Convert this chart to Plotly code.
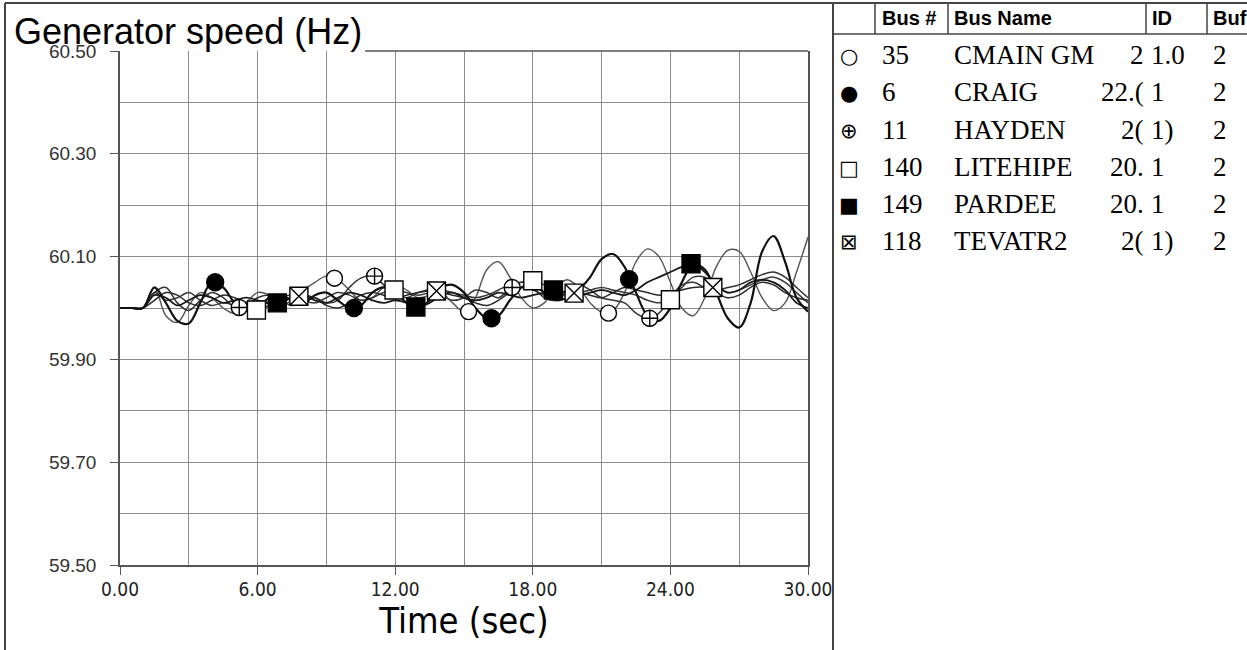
import plotly.graph_objects as go

# ---------------- data ----------------
TIME = [0.0, 0.5, 1.0, 1.5, 2.0, 2.5, 3.0, 3.5, 4.0, 4.5, 5.0, 5.5, 6.0, 6.5, 7.0, 7.5,
        8.0, 8.5, 9.0, 9.5, 10.0, 10.5, 11.0, 11.5, 12.0, 12.5, 13.0, 13.5, 14.0, 14.5,
        15.0, 15.5, 16.0, 16.5, 17.0, 17.5, 18.0, 18.5, 19.0, 19.5, 20.0, 20.5, 21.0,
        21.5, 22.0, 22.5, 23.0, 23.5, 24.0, 24.5, 25.0, 25.5, 26.0, 26.5, 27.0, 27.5,
        28.0, 28.5, 29.0, 29.5, 30.0]

CMAIN = [60.000, 60.000, 60.000, 60.040, 59.985, 59.972, 60.005, 60.030, 60.020, 60.000,
         59.990, 60.010, 60.030, 60.025, 60.005, 60.015, 60.035, 60.050, 60.062, 60.055,
         60.035, 60.015, 60.020, 60.040, 60.045, 60.035, 60.020, 60.025, 60.030, 60.010,
         59.993, 60.020, 60.075, 60.090, 60.060, 60.020, 60.000, 60.010, 60.040, 60.055,
         60.040, 60.010, 59.992, 59.995, 60.030, 60.090, 60.115, 60.100, 60.050, 60.000,
         59.985, 60.020, 60.080, 60.112, 60.110, 60.070, 60.020, 59.995, 60.010, 60.070,
         60.138]
CRAIG = [60.000, 60.000, 60.000, 60.040, 60.010, 59.975, 59.970, 60.010, 60.050, 60.040,
         60.010, 59.995, 60.000, 60.020, 60.025, 60.015, 60.010, 60.025, 60.030, 60.015,
         60.000, 60.005, 60.030, 60.040, 60.030, 60.010, 60.000, 60.015, 60.040, 60.045,
         60.030, 60.000, 59.980, 59.985, 60.015, 60.040, 60.045, 60.030, 60.015, 60.020,
         60.035, 60.060, 60.095, 60.105, 60.080, 60.030, 59.985, 59.975, 60.000, 60.050,
         60.085, 60.075, 60.030, 59.980, 59.962, 60.010, 60.110, 60.140, 60.090, 60.020,
         59.993]
HAYDEN = [60.000, 60.000, 60.000, 60.030, 60.040, 60.010, 59.995, 60.015, 60.030, 60.020,
          60.002, 60.005, 60.020, 60.025, 60.015, 60.005, 60.010, 60.020, 60.010, 60.015,
          60.040, 60.058, 60.062, 60.045, 60.025, 60.020, 60.030, 60.035, 60.025, 60.015,
          60.020, 60.035, 60.030, 60.020, 60.038, 60.050, 60.040, 60.020, 60.015, 60.030,
          60.045, 60.035, 60.020, 60.015, 60.010, 59.990, 59.980, 59.990, 60.020, 60.045,
          60.050, 60.040, 60.035, 60.040, 60.045, 60.055, 60.065, 60.070, 60.060, 60.040,
          60.020]
LITEHIPE = [60.000, 60.000, 60.000, 60.030, 60.015, 60.020, 60.030, 60.015, 60.005, 60.010,
            60.005, 60.000, 59.996, 60.005, 60.020, 60.025, 60.015, 60.010, 60.020, 60.030,
            60.025, 60.015, 60.020, 60.030, 60.035, 60.030, 60.025, 60.030, 60.035, 60.030,
            60.025, 60.020, 60.025, 60.035, 60.045, 60.050, 60.053, 60.045, 60.035, 60.030,
            60.030, 60.035, 60.040, 60.035, 60.030, 60.025, 60.015, 60.010, 60.016, 60.040,
            60.060, 60.060, 60.045, 60.030, 60.035, 60.045, 60.055, 60.060, 60.050, 60.030,
            60.010]
PARDEE = [60.000, 60.000, 60.000, 60.025, 60.020, 60.005, 60.015, 60.025, 60.020, 60.010,
          60.015, 60.020, 60.015, 60.010, 60.010, 60.020, 60.025, 60.015, 60.010, 60.020,
          60.030, 60.025, 60.015, 60.010, 60.015, 60.010, 60.002, 60.010, 60.025, 60.030,
          60.020, 60.015, 60.020, 60.030, 60.025, 60.020, 60.025, 60.030, 60.035, 60.030,
          60.025, 60.030, 60.035, 60.030, 60.025, 60.035, 60.050, 60.060, 60.070, 60.080,
          60.086, 60.070, 60.045, 60.030, 60.035, 60.050, 60.055, 60.050, 60.035, 60.010,
          60.000]
TEVATR2 = [60.000, 60.000, 60.000, 60.015, 60.030, 60.025, 60.010, 60.005, 60.015, 60.025,
           60.020, 60.010, 60.005, 60.010, 60.015, 60.020, 60.025, 60.020, 60.005, 60.000,
           60.010, 60.025, 60.030, 60.025, 60.020, 60.025, 60.030, 60.033, 60.030, 60.025,
           60.020, 60.010, 60.005, 60.015, 60.030, 60.040, 60.035, 60.025, 60.025, 60.028,
           60.030, 60.025, 60.020, 60.030, 60.040, 60.035, 60.030, 60.025, 60.030, 60.035,
           60.040, 60.040, 60.030, 60.020, 60.025, 60.040, 60.050, 60.045, 60.030, 60.020,
           60.015]

# marker positions (time, value)
CMAIN_MK_T = [9.35, 15.2, 21.3]
CMAIN_MK_V = [60.058, 59.993, 59.990]
CRAIG_MK_T = [4.15, 10.2, 16.2, 22.2]
CRAIG_MK_V = [60.050, 60.000, 59.980, 60.056]
HAYDEN_MK_T = [5.2, 11.1, 17.1, 23.1]
HAYDEN_MK_V = [60.001, 60.062, 60.040, 59.980]
LITEHIPE_MK_T = [5.95, 11.95, 18.0, 24.0]
LITEHIPE_MK_V = [59.996, 60.035, 60.053, 60.016]
PARDEE_MK_T = [6.86, 12.9, 18.9, 24.9]
PARDEE_MK_V = [60.010, 60.002, 60.035, 60.086]
TEVATR2_MK_T = [7.8, 13.8, 19.8, 25.85]
TEVATR2_MK_V = [60.023, 60.033, 60.029, 60.040]

Y_TICKS = [59.5, 59.7, 59.9, 60.1, 60.3, 60.5]
Y_TICK_TEXT = ["59.50", "59.70", "59.90", "60.10", "60.30", "60.50"]
Y_GRID = [59.6, 59.7, 59.8, 59.9, 60.0, 60.1, 60.2, 60.3, 60.4]
X_TICKS = [0, 6, 12, 18, 24, 30]
X_TICK_TEXT = ["0.00", "6.00", "12.00", "18.00", "24.00", "30.00"]
X_GRID = [3, 6, 9, 12, 15, 18, 21, 24, 27]

# legend table
TABLE_HEADER = ["Bus #", "Bus Name", "ID", "Buf"]
SYMBOLS = ["\u25CB", "\u25CF", "\u2295", "\u25A1", "\u25A0", "\u22A0"]
BUS_NUM = ["35", "6", "11", "140", "149", "118"]
BUS_NAME = ["CMAIN GM", "CRAIG", "HAYDEN", "LITEHIPE", "PARDEE", "TEVATR2"]
BUS_KV = ["2", "22.(", "2(", "20.", "20.", "2("]
BUS_ID = ["1.0", "1", "1)", "1", "1", "1)"]
BUS_BUF = ["2", "2", "2", "2", "2", "2"]

# ---------------- figure ----------------
W, H = 1247, 650
def px(x):
    return x / W
def py(y):
    return 1 - y / H

NARROW = "DejaVu Sans Condensed, Liberation Sans Narrow, Arial Narrow, Liberation Sans"

fig = go.Figure()

series = [
    (CMAIN, "#555555", 1.4),
    (HAYDEN, "#333333", 1.5),
    (LITEHIPE, "#3a3a3a", 1.5),
    (TEVATR2, "#2a2a2a", 1.5),
    (PARDEE, "#1a1a1a", 1.8),
    (CRAIG, "#111111", 2.2),
]
for vals, col, w in series:
    fig.add_trace(go.Scatter(x=TIME, y=vals, mode="lines",
                             line=dict(color=col, width=w, shape="spline", smoothing=1.0),
                             showlegend=False, hoverinfo="skip"))

markers = [
    (CMAIN_MK_T, CMAIN_MK_V, "circle", "white", 16),
    (CRAIG_MK_T, CRAIG_MK_V, "circle", "black", 17),
    (HAYDEN_MK_T, HAYDEN_MK_V, "circle-cross", "white", 16),
    (LITEHIPE_MK_T, LITEHIPE_MK_V, "square", "white", 18),
    (PARDEE_MK_T, PARDEE_MK_V, "square", "black", 18),
    (TEVATR2_MK_T, TEVATR2_MK_V, "square-x", "white", 18),
]
for t, v, sym, fill, sz in markers:
    fig.add_trace(go.Scatter(x=t, y=v, mode="markers",
                             marker=dict(symbol=sym, size=sz, color=fill,
                                         line=dict(color="black", width=1.4)),
                             showlegend=False, hoverinfo="skip"))

fig.update_xaxes(
    domain=[px(120), px(808)], range=[0, 30], automargin=False,
    tickvals=X_TICKS, ticktext=X_TICK_TEXT,
    ticks="outside", ticklen=8, tickcolor="#555",
    showgrid=False, zeroline=False,
    showline=True, linecolor="#555", linewidth=1.5,
    tickfont=dict(family=NARROW, size=19, color="#222"),
    ticklabelstandoff=-2,
    minor=dict(tickvals=X_GRID, showgrid=True, gridcolor="#8a8a8a", gridwidth=1, ticks=""),
    title=dict(text="Time (sec)", standoff=6,
               font=dict(family=NARROW, size=36, color="black")),
)
fig.update_yaxes(
    domain=[py(565), py(51)], range=[59.5, 60.5], automargin=False,
    tickvals=Y_TICKS, ticktext=Y_TICK_TEXT,
    ticks="outside", ticklen=8, tickcolor="#555",
    showgrid=False, zeroline=False,
    showline=True, mirror=True, linecolor="#555", linewidth=1.5,
    tickfont=dict(family="Liberation Sans, Arial", size=19, color="#333"),
    ticklabelstandoff=10,
    minor=dict(tickvals=Y_GRID, showgrid=True, gridcolor="#8a8a8a", gridwidth=1, ticks=""),
)

shapes = []
def line(x0, y0, x1, y1, w=1.5, c="#444"):
    shapes.append(dict(type="line", xref="paper", yref="paper",
                       x0=px(x0), y0=py(y0), x1=px(x1), y1=py(y1),
                       line=dict(color=c, width=w)))

# frame
line(5, 3, 1247, 3, 2)
line(5, 3, 5, 650, 2)
line(833, 3, 833, 650, 2)
# top edge of plot (to the right of the title)
line(365, 51, 808, 51, 1.5, "#555")
# table header
line(833, 34, 1247, 34, 1.5)
for xs in [875, 948, 1146, 1207]:
    line(xs, 3, xs, 34, 1.5)

annotations = [dict(text="Generator speed (Hz)", xref="paper", yref="paper",
                    x=px(12), y=py(31), xanchor="left", yanchor="middle", showarrow=False,
                    font=dict(family="Liberation Sans, Arial", size=36, color="black"))]

hdr_x = [880, 952, 1150, 1211]
for hx, ht in zip(hdr_x, TABLE_HEADER):
    annotations.append(dict(text="<b>%s</b>" % ht, xref="paper", yref="paper",
                            x=px(hx), y=py(18), xanchor="left", yanchor="middle",
                            showarrow=False,
                            font=dict(family="Liberation Sans, Arial", size=20, color="black")))

row_y = [55, 92, 130, 167, 204, 241]
serif = dict(family="Liberation Serif, Times New Roman", size=27, color="black")
for i, ry in enumerate(row_y):
    annotations.append(dict(text=SYMBOLS[i], xref="paper", yref="paper",
                            x=px(849), y=py(ry + 1), xanchor="center", yanchor="middle",
                            showarrow=False,
                            font=dict(family="DejaVu Sans", size=21, color="black")))
    for xx, txt, anc in [(880, BUS_NUM[i], "left"), (952, BUS_NAME[i], "left"),
                         (1146, BUS_KV[i], "right"), (1149, BUS_ID[i], "left"),
                         (1211, BUS_BUF[i], "left")]:
        annotations.append(dict(text=txt, xref="paper", yref="paper",
                                x=px(xx), y=py(ry), xanchor=anc, yanchor="middle",
                                showarrow=False, font=serif))

fig.update_layout(
    width=W, height=H, autosize=False,
    margin=dict(l=0, r=0, t=0, b=0, pad=0, autoexpand=False),
    paper_bgcolor="white", plot_bgcolor="white",
    shapes=shapes, annotations=annotations,
    showlegend=False,
)

fig.write_html("out.html", config={"displayModeBar": False},
               post_script="document.body.style.margin='0';document.body.style.overflow='hidden';")
